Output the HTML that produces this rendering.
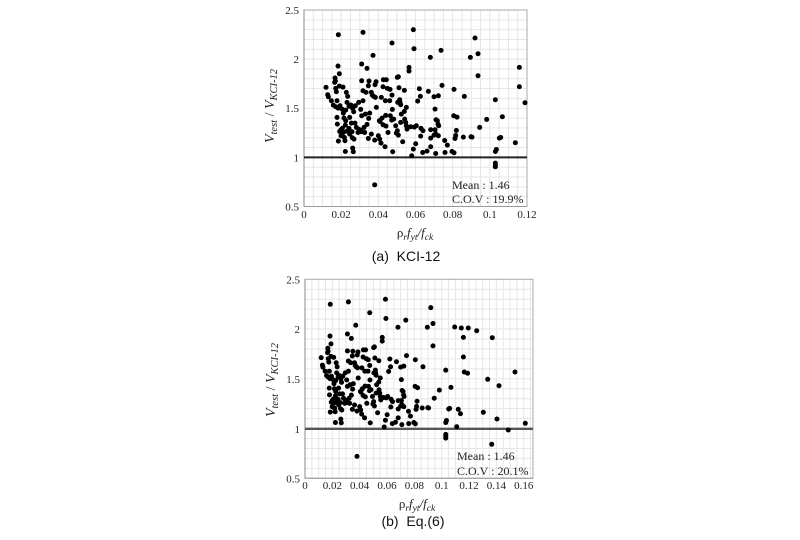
<!DOCTYPE html>
<html><head><meta charset="utf-8"><style>
html,body{margin:0;padding:0;background:#fff;}
svg{display:block;}
.t{font-family:"Liberation Serif",serif;fill:#222;}
.c{font-family:"Liberation Sans",sans-serif;fill:#111;white-space:pre;}
</style></head><body>
<svg width="800" height="540" viewBox="0 0 800 540" xmlns="http://www.w3.org/2000/svg" xmlns:xlink="http://www.w3.org/1999/xlink">
<rect width="800" height="540" fill="#fff"/>

<!-- ============ TOP PLOT ============ -->
<path fill="none" stroke="#e6e6e6" stroke-width="1" d="M313.29 10V206.5M322.58 10V206.5M331.88 10V206.5M341.17 10V206.5M350.46 10V206.5M359.75 10V206.5M369.04 10V206.5M378.33 10V206.5M387.63 10V206.5M396.92 10V206.5M406.21 10V206.5M415.5 10V206.5M424.79 10V206.5M434.08 10V206.5M443.38 10V206.5M452.67 10V206.5M461.96 10V206.5M471.25 10V206.5M480.54 10V206.5M489.83 10V206.5M499.13 10V206.5M508.42 10V206.5M517.71 10V206.5
M304 19.83H527M304 29.65H527M304 39.48H527M304 49.3H527M304 59.13H527M304 68.95H527M304 78.78H527M304 88.6H527M304 98.43H527M304 108.25H527M304 118.08H527M304 127.9H527M304 137.73H527M304 147.55H527M304 167.2H527M304 177.03H527M304 186.85H527M304 196.68H527"/>
<rect x="304" y="10" width="223" height="196.5" fill="none" stroke="#aaa" stroke-width="1"/>
<line x1="304" y1="10" x2="304" y2="206.5" stroke="#888" stroke-width="1"/>
<line x1="304" y1="206.5" x2="527" y2="206.5" stroke="#999" stroke-width="1"/>
<line x1="304" y1="157.4" x2="527" y2="157.4" stroke="#222" stroke-width="2"/>

<g class="t" font-size="11" text-anchor="end">
<text x="299" y="14">2.5</text>
<text x="299" y="63">2</text>
<text x="299" y="112">1.5</text>
<text x="299" y="161.5">1</text>
<text x="299" y="210.5">0.5</text>
</g>
<g class="t" font-size="11" text-anchor="middle">
<text x="304" y="218">0</text>
<text x="341.17" y="218">0.02</text>
<text x="378.33" y="218">0.04</text>
<text x="415.5" y="218">0.06</text>
<text x="452.67" y="218">0.08</text>
<text x="489.83" y="218">0.1</text>
<text x="527" y="218">0.12</text>
</g>

<text class="t" font-size="14" transform="translate(274,106) rotate(-90)" text-anchor="middle"><tspan font-style="italic">V</tspan><tspan font-style="italic" font-size="10.5" dy="3">test</tspan><tspan dy="-3"> / </tspan><tspan font-style="italic">V</tspan><tspan font-style="italic" font-size="10.5" dy="3">KCI-12</tspan></text>

<text class="t" font-size="13" x="415" y="237" text-anchor="middle">ρ<tspan font-size="9.5" font-style="italic" dy="3">r</tspan><tspan dy="-3" font-style="italic">f</tspan><tspan font-size="9.5" font-style="italic" dy="3">yt</tspan><tspan dy="-3" font-style="italic">/f</tspan><tspan font-size="9.5" font-style="italic" dy="3">ck</tspan></text>

<text class="t" font-size="12" x="452" y="189">Mean : 1.46</text>
<text class="t" font-size="12" x="452" y="203">C.O.V : 19.9%</text>

<text class="c" font-size="14" x="406" y="261" text-anchor="middle">(a)  KCI-12</text>

<!-- ============ BOTTOM PLOT ============ -->
<path fill="none" stroke="#e6e6e6" stroke-width="1" d="M311.84 279.3V478.3M318.67 279.3V478.3M325.51 279.3V478.3M332.34 279.3V478.3M339.18 279.3V478.3M346.01 279.3V478.3M352.85 279.3V478.3M359.68 279.3V478.3M366.52 279.3V478.3M373.35 279.3V478.3M380.19 279.3V478.3M387.02 279.3V478.3M393.86 279.3V478.3M400.69 279.3V478.3M407.53 279.3V478.3M414.36 279.3V478.3M421.2 279.3V478.3M428.03 279.3V478.3M434.87 279.3V478.3M441.7 279.3V478.3M448.54 279.3V478.3M455.37 279.3V478.3M462.21 279.3V478.3M469.04 279.3V478.3M475.88 279.3V478.3M482.71 279.3V478.3M489.55 279.3V478.3M496.38 279.3V478.3M503.22 279.3V478.3M510.05 279.3V478.3M516.89 279.3V478.3M523.72 279.3V478.3M530.56 279.3V478.3
M305 289.25H533M305 299.2H533M305 309.15H533M305 319.1H533M305 329.05H533M305 339H533M305 348.95H533M305 358.9H533M305 368.85H533M305 378.8H533M305 388.75H533M305 398.7H533M305 408.65H533M305 418.6H533M305 438.5H533M305 448.45H533M305 458.4H533M305 468.35H533"/>
<rect x="305" y="279.3" width="228" height="199" fill="none" stroke="#aaa" stroke-width="1"/>
<line x1="305" y1="279.3" x2="305" y2="478.3" stroke="#888" stroke-width="1"/>
<line x1="305" y1="478.3" x2="533" y2="478.3" stroke="#999" stroke-width="1"/>
<line x1="305" y1="428.8" x2="533" y2="428.8" stroke="#555" stroke-width="2.4"/>

<g class="t" font-size="11" text-anchor="end">
<text x="300" y="283.3">2.5</text>
<text x="300" y="333">2</text>
<text x="300" y="383">1.5</text>
<text x="300" y="432.8">1</text>
<text x="300" y="482.3">0.5</text>
</g>
<g class="t" font-size="11" text-anchor="middle">
<text x="305" y="489">0</text>
<text x="332.34" y="489">0.02</text>
<text x="359.68" y="489">0.04</text>
<text x="387.02" y="489">0.06</text>
<text x="414.36" y="489">0.08</text>
<text x="441.7" y="489">0.1</text>
<text x="469.04" y="489">0.12</text>
<text x="496.38" y="489">0.14</text>
<text x="523.72" y="489">0.16</text>
</g>

<text class="t" font-size="14" transform="translate(275,380) rotate(-90)" text-anchor="middle"><tspan font-style="italic">V</tspan><tspan font-style="italic" font-size="10.5" dy="3">test</tspan><tspan dy="-3"> / </tspan><tspan font-style="italic">V</tspan><tspan font-style="italic" font-size="10.5" dy="3">KCI-12</tspan></text>

<text class="t" font-size="13" x="417" y="508" text-anchor="middle">ρ<tspan font-size="9.5" font-style="italic" dy="3">r</tspan><tspan dy="-3" font-style="italic">f</tspan><tspan font-size="9.5" font-style="italic" dy="3">yt</tspan><tspan dy="-3" font-style="italic">/f</tspan><tspan font-size="9.5" font-style="italic" dy="3">ck</tspan></text>

<text class="t" font-size="12" x="457" y="460">Mean : 1.46</text>
<text class="t" font-size="12" x="457" y="475">C.O.V : 20.1%</text>

<text class="c" font-size="14" x="413" y="526" text-anchor="middle">(b)  Eq.(6)</text>

<!-- ============ DATA POINTS ============ -->
<defs>
<path id="pts" fill="none" stroke="#000" stroke-width="5" stroke-linecap="round" vector-effect="non-scaling-stroke" style="vector-effect:non-scaling-stroke" d="M266 102h.1M340 95h.1M491 87h.1M427 127h.1M493 144h.1M370 164h.1M265 196h.1M336 190h.1M352 203h.1M478 200h.1M478 211h.1M269 219h.1M256 232h.1M257 241h.1M255 245h.1M229 260h.1M234 282h.1M236 288h.1M258 263h.1M260 273h.1M269 256h.1M280 259h.1M290 275h.1M294 287h.1M336 240h.1M356 255h.1M340 270h.1M349 275h.1M365 275h.1M368 283h.1M377 290h.1M372 287h.1M379 243h.1M376 252h.1M358 241h.1M401 237h.1M410 237h.1M400 258h.1M413 263h.1M421 266h.1M427 283h.1M407 300h.1M443 230h.1M446 228h.1M448 261h.1M464 269h.1M450 297h.1M451 305h.1M444 305h.1M453 312h.1M470 320h.1M464 332h.1M428 326h.1M422 345h.1M408 344h.1M397 352h.1M391 362h.1M389 360h.1M400 372h.1M409 376h.1M426 358h.1M432 355h.1M438 375h.1M440 397h.1M446 403h.1M443 390h.1M453 365h.1M465 355h.1M468 365h.1M470 375h.1M472 385h.1M483 378h.1M251 313h.1M258 318h.1M265 322h.1M271 315h.1M277 325h.1M281 337h.1M292 305h.1M288 328h.1M298 317h.1M304 313h.1M309 323h.1M312 333h.1M317 315h.1M327 305h.1M333 326h.1M336 345h.1M347 340h.1M360 337h.1M357 353h.1M352 371h.1M335 393h.1M325 395h.1M263 370h.1M274 387h.1M270 392h.1M278 383h.1M281 395h.1M288 360h.1M287 373h.1M292 391h.1M298 383h.1M305 367h.1M307 393h.1M316 367h.1M328 386h.1M333 389h.1M343 380h.1M266 421h.1M284 410h.1M286 420h.1M308 411h.1M313 415h.1M287 452h.1M309 442h.1M311 453h.1M356 413h.1M375 418h.1M386 405h.1M390 415h.1M394 427h.1M406 438h.1M429 453h.1M459 423h.1M491 445h.1M486 465h.1M498 429h.1M375 552h.1M542 170h.1M574 149h.1M676 112h.1M662 170h.1M685 159h.1M685 225h.1M809 200h.1M809 258h.1M826 306h.1M509 264h.1M504 301h.1M512 287h.1M536 272h.1M553 288h.1M566 285h.1M577 254h.1M613 266h.1M644 287h.1M737 297h.1M556 325h.1M559 357h.1M563 360h.1M565 370h.1M567 375h.1M612 345h.1M622 349h.1M711 356h.1M758 348h.1M690 380h.1M494 379h.1M500 375h.1M514 383h.1M520 390h.1M543 387h.1M556 387h.1M553 403h.1M558 399h.1M513 406h.1M543 412h.1M566 405h.1M620 389h.1M618 404h.1M616 413h.1M641 409h.1M664 408h.1M667 409h.1M585 419h.1M593 433h.1M519 455h.1M532 451h.1M543 438h.1M558 458h.1M586 455h.1M607 452h.1M613 456h.1M753 410h.1M749 412h.1M740 446h.1M737 452h.1M797 426h.1M737 487h.1M737 493h.1M737 498h.1M245 300h.1M262 350h.1M300 350h.1M320 380h.1M274 405h.1M300 400h.1M340 300h.1M380 320h.1M415 395h.1M455 340h.1M420 300h.1M395 290h.1M262 300h.1M283 352h.1M345 395h.1M365 400h.1"/>
</defs>

<g transform="matrix(0.33333 0 0 0.33362 249.67 0.66)">
<use href="#pts" xlink:href="#pts"/>
</g>
<g transform="matrix(0.245201 0 0 0.337861 265.03 269.84)">
<use href="#pts" xlink:href="#pts"/>
</g>

<!-- extra points only in bottom plot -->
<g fill="#000">
<circle cx="454.7" cy="327" r="2.5"/><circle cx="461.3" cy="328" r="2.5"/><circle cx="468.3" cy="328" r="2.5"/><circle cx="476.7" cy="330.7" r="2.5"/><circle cx="492.3" cy="337.7" r="2.5"/><circle cx="464.3" cy="372" r="2.5"/><circle cx="515" cy="372" r="2.5"/><circle cx="487.7" cy="379.3" r="2.5"/><circle cx="499" cy="385.7" r="2.5"/><circle cx="458.3" cy="409.3" r="2.5"/><circle cx="483.3" cy="412.3" r="2.5"/><circle cx="497" cy="419" r="2.5"/><circle cx="456.7" cy="426.7" r="2.5"/><circle cx="525.3" cy="423.3" r="2.5"/><circle cx="508.3" cy="430" r="2.5"/><circle cx="491.7" cy="444.3" r="2.5"/>
</g>
</svg>
</body></html>
